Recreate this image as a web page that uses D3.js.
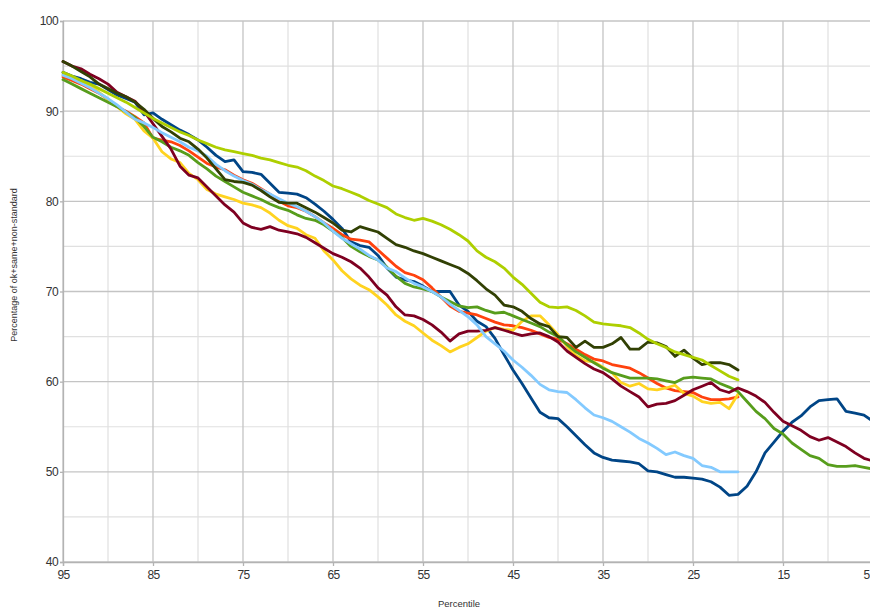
<!DOCTYPE html>
<html>
<head>
<meta charset="utf-8">
<script src="https://cdn.jsdelivr.net/npm/d3@7"></script>
<style>
html,body{margin:0;padding:0;background:#fff;overflow:hidden;}
svg{display:block;}
</style>
</head>
<body>
<svg id="chart" width="870" height="610"></svg>
<script>
// Percentiles (x values), descending
const pctLong = d3.range(95, 4, -1);   // 95..5
const pctShort = d3.range(95, 19, -1); // 95..20

const xTicks = [95, 85, 75, 65, 55, 45, 35, 25, 15, 5];
const yTicks = [40, 50, 60, 70, 80, 90, 100];
const xLabel = "Percentile";
const yLabel = "Percentage of ok+same+non-standard";

// Series values
const darkBlue = [94.3,93.9,93.6,93.2,93.0,92.4,91.8,91.4,91.0,89.6,89.8,89.1,88.5,87.9,87.4,86.8,86.0,85.1,84.4,84.6,
  83.3,83.2,83.0,82.0,81.0,80.9,80.8,80.4,79.7,78.9,78.0,77.0,75.5,75.1,74.9,74.0,72.6,71.6,71.3,71.1,
  70.6,70.0,70.0,70.0,68.5,67.8,66.7,66.1,64.8,63.0,61.3,59.8,58.2,56.6,56.0,55.9,55.0,54.0,53.0,52.1,
  51.6,51.3,51.2,51.1,50.9,50.1,50.0,49.7,49.4,49.4,49.3,49.2,48.9,48.3,47.4,47.5,48.4,50.0,52.1,53.3,
  54.5,55.5,56.2,57.2,57.9,58.0,58.1,56.7,56.5,56.3,55.6];
const orangeRed = [93.8,93.4,93.0,92.5,92.0,91.3,90.5,90.0,89.4,88.7,87.0,86.8,86.6,86.2,85.6,84.9,84.2,83.8,83.5,82.9,
  82.4,82.0,81.4,80.8,80.0,79.5,79.3,78.9,78.3,77.6,77.0,76.3,75.8,75.7,75.5,74.6,73.7,72.8,72.1,71.8,
  71.3,70.4,69.4,68.4,67.8,67.6,67.4,67.0,66.6,66.3,66.2,66.0,65.7,65.3,64.9,64.7,64.2,63.6,63.0,62.5,
  62.3,61.9,61.7,61.5,61.0,60.4,59.8,59.3,59.0,58.9,58.8,58.3,58.0,58.0,58.1,58.3];
const yellow = [94.0,93.7,93.4,92.8,92.1,91.3,90.5,89.7,89.1,87.8,87.0,85.5,84.7,84.3,83.1,82.4,81.3,80.8,80.5,80.2,
  79.8,79.6,79.3,78.7,77.9,77.3,77.0,76.3,75.9,74.5,73.5,72.3,71.4,70.7,70.2,69.4,68.5,67.4,66.7,66.2,
  65.4,64.6,64.0,63.3,63.8,64.2,64.9,65.6,66.0,65.8,65.7,66.7,67.3,67.3,66.3,65.2,63.9,62.9,62.3,62.2,
  61.6,61.0,59.9,59.5,59.8,59.2,59.1,59.3,59.6,58.7,58.4,57.8,57.6,57.7,57.0,58.6];
const green = [93.5,93.0,92.5,92.0,91.5,91.0,90.5,89.9,89.3,88.3,87.1,86.6,86.0,85.6,85.1,84.3,83.6,82.8,82.2,81.6,
  81.0,80.6,80.2,79.7,79.3,79.0,78.5,78.1,77.9,77.4,76.7,76.0,75.0,74.4,73.9,73.5,72.7,71.7,70.9,70.5,
  70.3,70.0,69.4,68.9,68.4,68.2,68.3,67.9,67.6,67.7,67.3,66.9,66.5,66.1,65.5,65.0,64.1,63.3,62.7,62.1,
  61.5,61.0,60.7,60.4,60.4,60.4,60.3,60.1,59.9,60.4,60.5,60.4,60.3,59.8,59.4,58.9,57.8,56.7,55.9,54.8,
  54.2,53.2,52.5,51.8,51.5,50.8,50.6,50.6,50.7,50.5,50.3];
const maroon = [95.5,95.0,94.7,94.1,93.6,93.0,92.1,91.6,91.1,90.0,88.6,87.2,85.8,83.9,82.9,82.6,81.6,80.6,79.6,78.8,
  77.6,77.1,76.9,77.2,76.8,76.6,76.4,76.0,75.4,74.8,74.2,73.8,73.3,72.6,71.6,70.4,69.6,68.3,67.4,67.3,
  66.9,66.3,65.5,64.5,65.3,65.6,65.6,65.7,66.0,65.7,65.4,65.1,65.3,65.4,65.0,64.4,63.4,62.7,62.0,61.4,
  61.0,60.3,59.5,58.9,58.3,57.2,57.5,57.6,57.9,58.5,59.1,59.5,59.9,59.1,58.8,59.3,58.9,58.4,57.7,56.6,
  55.6,55.1,54.6,53.9,53.5,53.8,53.3,52.8,52.1,51.5,51.2];
const lightBlue = [94.0,93.6,93.1,92.6,92.0,91.4,90.7,89.9,89.1,88.7,88.2,87.6,87.1,86.6,86.0,85.6,85.0,84.1,83.4,82.8,
  82.3,81.9,81.3,80.8,80.3,79.8,79.4,78.9,78.3,77.6,76.7,75.9,75.3,74.7,74.0,73.5,72.6,72.2,71.5,70.9,
  70.5,70.0,69.4,68.6,67.9,67.2,66.3,65.0,64.2,63.4,62.4,61.6,60.7,59.7,59.1,58.9,58.8,58.0,57.1,56.3,
  56.0,55.6,55.0,54.4,53.7,53.2,52.6,51.9,52.2,51.8,51.5,50.7,50.5,50.0,50.0,50.0];
const darkOlive = [95.5,95.0,94.4,93.8,93.0,92.5,92.0,91.6,91.0,90.2,89.2,88.3,87.7,87.0,86.6,85.8,84.8,83.6,82.4,82.2,
  82.1,81.8,81.2,80.5,79.9,79.8,79.8,79.3,78.8,78.2,77.6,76.8,76.6,77.2,76.9,76.6,75.9,75.2,74.9,74.5,
  74.2,73.8,73.4,73.0,72.6,72.0,71.2,70.3,69.6,68.5,68.3,67.8,67.0,66.4,66.1,65.0,64.9,63.8,64.5,63.8,
  63.8,64.2,64.9,63.6,63.6,64.4,64.3,63.9,62.8,63.5,62.6,61.9,62.1,62.1,61.9,61.3];
const lime = [94.3,93.9,93.4,93.0,92.5,92.0,91.5,91.0,90.4,89.8,89.2,88.7,88.2,87.7,87.3,86.8,86.4,86.0,85.7,85.5,
  85.3,85.1,84.8,84.6,84.3,84.0,83.8,83.4,82.8,82.3,81.7,81.4,81.0,80.6,80.1,79.7,79.3,78.6,78.2,77.9,
  78.1,77.8,77.4,76.9,76.3,75.6,74.5,73.8,73.3,72.6,71.6,70.8,69.8,68.8,68.3,68.2,68.3,67.9,67.3,66.6,
  66.4,66.3,66.2,66.0,65.4,64.7,64.2,63.8,63.3,63.0,62.7,62.4,61.8,61.2,60.6,60.2];

const seriesList = [
  {values: darkBlue,  x: pctLong,  color: "#004586"},
  {values: orangeRed, x: pctShort, color: "#ff420e"},
  {values: yellow,    x: pctShort, color: "#ffd320"},
  {values: green,     x: pctLong,  color: "#579d1c"},
  {values: maroon,    x: pctLong,  color: "#7e0021"},
  {values: lightBlue, x: pctShort, color: "#83caff"},
  {values: darkOlive, x: pctShort, color: "#314004"},
  {values: lime,      x: pctShort, color: "#aecf00"}
];

(function () {
  const W = 870;
  const svg = d3.select("#chart");
  const mLeft = 63, mRight = 873, mTop = 21, mBottom = 562;

  const x = d3.scaleLinear().domain([95, 5]).range([mLeft, mRight]);
  const y = d3.scaleLinear().domain([40, 100]).range([mBottom, mTop]);

  // minor grid
  const g = svg.append("g");
  g.selectAll(".vminor").data(d3.range(90, 4, -10)).enter().append("line")
    .attr("x1", d => x(d)).attr("x2", d => x(d)).attr("y1", mTop).attr("y2", mBottom)
    .attr("stroke", "#e0e0e0").attr("stroke-width", 1.2);
  g.selectAll(".hminor").data(d3.range(45, 100, 10)).enter().append("line")
    .attr("x1", mLeft).attr("x2", mRight).attr("y1", d => y(d)).attr("y2", d => y(d))
    .attr("stroke", "#e0e0e0").attr("stroke-width", 1.2);
  // major grid
  g.selectAll(".vmajor").data(xTicks).enter().append("line")
    .attr("x1", d => x(d)).attr("x2", d => x(d)).attr("y1", mTop).attr("y2", mBottom)
    .attr("stroke", "#c4c4c4").attr("stroke-width", 1.3);
  g.selectAll(".hmajor").data(yTicks).enter().append("line")
    .attr("x1", mLeft).attr("x2", mRight).attr("y1", d => y(d)).attr("y2", d => y(d))
    .attr("stroke", "#c4c4c4").attr("stroke-width", 1.3);

  // axes
  const xAxis = d3.axisBottom(x).tickValues(xTicks).tickSize(4).tickPadding(4).tickFormat(d3.format("d"));
  const yAxis = d3.axisLeft(y).tickValues(yTicks).tickSize(3).tickPadding(2).tickFormat(d3.format("d"));
  const gx = svg.append("g").attr("transform", `translate(0,${mBottom})`).call(xAxis);
  const gy = svg.append("g").attr("transform", `translate(${mLeft},0)`).call(yAxis);
  [gx, gy].forEach(a => {
    a.select(".domain").attr("stroke", "#b3b3b3").attr("stroke-width", 1.3);
    a.selectAll(".tick line").attr("stroke", "#b3b3b3").attr("stroke-width", 1.3);
    a.selectAll(".tick text").attr("fill", "#333").attr("font-family", "Liberation Sans, Arial, sans-serif")
      .attr("font-size", 12).attr("letter-spacing", -0.6);
  });
  // keep the last x tick label (at the clipped right edge) inside the picture
  gx.selectAll(".tick").filter(d => x(d) > W - 8).select("text")
    .attr("text-anchor", "end").attr("dx", (W - 1) - x(5));

  // lines
  const line = d3.line().x(d => x(d[0])).y(d => y(d[1]));
  seriesList.forEach(s => {
    svg.append("path")
      .datum(s.x.map((p, i) => [p, s.values[i]]))
      .attr("d", line)
      .attr("fill", "none")
      .attr("stroke", s.color)
      .attr("stroke-width", 2.8)
      .attr("stroke-linejoin", "round")
      .attr("stroke-linecap", "round");
  });

  // axis titles
  svg.append("text").attr("x", 459).attr("y", 607).attr("text-anchor", "middle")
    .attr("font-family", "Liberation Sans, Arial, sans-serif").attr("font-size", 9.5).attr("fill", "#333")
    .text(xLabel);
  svg.append("text").attr("transform", "translate(17,265) rotate(-90)").attr("text-anchor", "middle")
    .attr("font-family", "Liberation Sans, Arial, sans-serif").attr("font-size", 9).attr("fill", "#333")
    .text(yLabel);
})();
</script>
</body>
</html>
